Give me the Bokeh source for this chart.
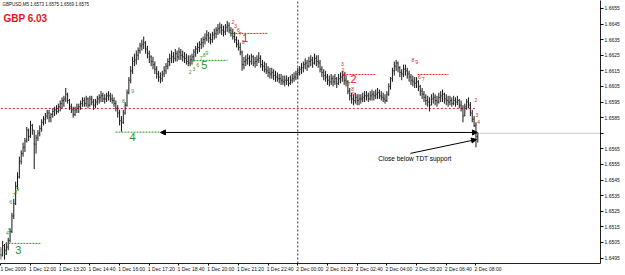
from bokeh.plotting import figure
from bokeh.models import (Range1d, FixedTicker, PrintfTickFormatter, Label, Arrow, NormalHead,
                          ColumnDataSource, LinearAxis)
from bokeh.core.properties import value
from bokeh.embed import file_html
from bokeh.resources import INLINE

BASE = 1.6500  # prices below are in pips above this level

high_pips = [2, 6,
    4, 5, 8, 14, 24, 33, 44, 50,
    60, 64, 69, 72, 79, 78, 83, 81,
    77, 74, 77, 80, 84, 86, 88, 90,
    90, 88, 91, 92, 93, 94, 96, 98,
    99, 104, 101, 97, 94, 92, 92, 94,
    94, 96, 98, 98, 99, 98, 99, 99,
    97, 97, 99, 100, 102, 101, 100, 101,
    102, 101, 100, 98, 96, 93, 90, 86,
    90, 95, 103, 111, 118, 124, 126, 128,
    130, 133, 135, 137, 134, 131, 128, 125,
    124, 121, 118, 115, 114, 115, 118, 120,
    123, 126, 128, 127, 129, 128, 130, 129,
    128, 127, 126, 125, 125, 126, 129, 131,
    133, 134, 136, 137, 139, 141, 140, 139,
    140, 142, 143, 145, 146, 145, 144, 145,
    147, 146, 143, 142, 140, 137, 135, 133,
    128, 124, 125, 126, 125, 126, 125, 124,
    125, 127, 125, 122, 121, 120, 118, 117,
    117, 116, 115, 114, 113, 113, 112, 112,
    112, 111, 112, 113, 114, 115, 117, 118,
    120, 121, 123, 122, 124, 125, 124, 126,
    125, 125, 122, 118, 116, 115, 113, 112,
    113, 112, 113, 111, 113, 114, 115, 114,
    112, 109, 104, 101, 100, 101, 100, 100,
    100, 101, 102, 102, 101, 102, 103, 102,
    103, 104, 103, 102, 101, 100, 102, 107,
    111, 117, 121, 122, 121, 118, 116, 119,
    119, 117, 115, 113, 112, 111, 111, 109,
    106, 104, 102, 100, 99, 98, 100, 101,
    100, 99, 101, 102, 103, 101, 100, 99,
    99, 98, 99, 98, 99, 97, 96, 93,
    94, 97, 98, 95, 90, 86, 82, 75]

low_pips = [-6, -4,
    -6, -3, 0, 5, 11, 20, 29, 39,
    46, 55, 60, 63, 69, 70, 72, 74,
    52, 62, 70, 73, 76, 80, 81, 84,
    82, 82, 85, 86, 87, 88, 89, 91,
    92, 95, 94, 90, 88, 85, 86, 88,
    88, 90, 92, 92, 92, 91, 92, 93,
    90, 91, 93, 94, 95, 95, 94, 95,
    96, 95, 94, 92, 89, 85, 80, 76,
    81, 87, 92, 100, 107, 113, 118, 119,
    122, 126, 128, 129, 126, 123, 120, 118,
    116, 113, 110, 108, 107, 108, 111, 113,
    116, 118, 120, 120, 121, 121, 122, 122,
    121, 120, 119, 118, 118, 119, 121, 124,
    126, 127, 129, 130, 132, 134, 133, 132,
    133, 135, 136, 138, 139, 138, 137, 138,
    140, 139, 137, 135, 133, 130, 128, 125,
    115, 116, 118, 119, 118, 119, 118, 117,
    118, 120, 117, 115, 114, 113, 111, 110,
    110, 109, 108, 108, 107, 106, 106, 105,
    106, 105, 106, 107, 108, 109, 110, 112,
    113, 114, 116, 115, 117, 118, 117, 119,
    118, 117, 114, 111, 109, 108, 106, 105,
    106, 105, 106, 104, 106, 107, 108, 106,
    105, 100, 96, 94, 93, 94, 93, 93,
    94, 95, 95, 96, 95, 96, 96, 96,
    97, 97, 97, 96, 95, 94, 95, 99,
    103, 108, 112, 115, 114, 111, 109, 111,
    112, 110, 108, 106, 105, 104, 104, 102,
    99, 97, 95, 93, 92, 89, 93, 94,
    93, 92, 94, 95, 95, 94, 93, 92,
    93, 92, 93, 92, 93, 91, 89, 82,
    86, 90, 91, 86, 82, 79, 66, 69]

close_pips = [-3, 3,
    0, 2, 6, 12, 22, 30, 41, 47,
    57, 62, 66, 70, 77, 73, 80, 77,
    68, 72, 75, 78, 82, 84, 86, 88,
    85, 87, 89, 90, 89, 92, 94, 96,
    97, 100, 96, 92, 90, 87, 90, 91,
    92, 94, 96, 94, 97, 93, 97, 95,
    93, 95, 97, 98, 99, 97, 97, 99,
    99, 97, 96, 94, 91, 88, 83, 82,
    88, 93, 101, 109, 115, 121, 122, 125,
    128, 131, 132, 133, 129, 126, 124, 121,
    119, 116, 113, 111, 110, 113, 115, 118,
    121, 123, 124, 123, 126, 124, 127, 125,
    124, 123, 121, 120, 122, 124, 127, 129,
    130, 132, 133, 135, 136, 138, 136, 135,
    138, 139, 141, 142, 143, 141, 140, 143,
    144, 141, 139, 137, 135, 132, 130, 127,
    119, 121, 122, 123, 121, 124, 120, 121,
    122, 123, 119, 118, 116, 115, 114, 113,
    114, 112, 111, 110, 110, 109, 108, 109,
    109, 107, 109, 110, 111, 113, 114, 116,
    117, 119, 120, 118, 121, 122, 120, 123,
    121, 120, 116, 114, 112, 111, 109, 108,
    110, 108, 110, 107, 110, 111, 112, 109,
    108, 102, 99, 97, 96, 98, 96, 97,
    97, 98, 99, 99, 97, 99, 100, 99,
    100, 101, 99, 98, 97, 96, 100, 105,
    110, 115, 118, 120, 117, 114, 113, 116,
    115, 113, 111, 109, 108, 107, 108, 105,
    102, 100, 98, 96, 95, 93, 97, 98,
    96, 95, 98, 99, 100, 97, 96, 95,
    96, 94, 96, 95, 96, 93, 91, 86,
    92, 95, 93, 88, 84, 80, 73, 75]

# time axis: one bar = 5 minutes, bar 0 = 1 Dec 10:40
tick_bars = [0, 16, 32, 48, 64, 80, 96, 112, 128, 144, 160, 176, 192, 208, 224, 240, 256]
tick_labels = ["1 Dec 2009", "1 Dec 12:00", "1 Dec 13:20", "1 Dec 14:40", "1 Dec 16:00",
               "1 Dec 17:20", "1 Dec 18:40", "1 Dec 20:00", "1 Dec 21:20", "1 Dec 22:40",
               "2 Dec 00:00", "2 Dec 01:20", "2 Dec 02:40", "2 Dec 04:00", "2 Dec 05:20",
               "2 Dec 06:40", "2 Dec 08:00"]
price_ticks = [1.6495, 1.6505, 1.6515, 1.6525, 1.6535, 1.6545, 1.6555, 1.6565, 1.6575,
               1.6585, 1.6595, 1.6605, 1.6615, 1.6625, 1.6635, 1.6645, 1.6655]
last_price = 1.6575
resistance_level = 1.65909
support_level = 1.65757

n = len(close_pips)
idx = list(range(n))
high = [BASE + h / 10000 for h in high_pips]
low = [BASE + l / 10000 for l in low_pips]
close = [BASE + c / 10000 for c in close_pips]
opn = [close[0]] + close[:-1]

src = ColumnDataSource(dict(
    x=idx, xl=[i - 0.45 for i in idx], xr=[i + 0.45 for i in idx],
    high=high, low=low, open=opn, close=close))

p = figure(width=625, height=275, output_backend="svg", toolbar_location=None,
           x_range=Range1d(-0.16, 323.1), y_range=Range1d(1.64915, 1.66601),
           y_axis_location="right", min_border_left=0, min_border_top=0,
           min_border_right=25, min_border_bottom=12)
p.outline_line_color = None
p.grid.visible = False
p.background_fill_color = "white"

FONT = "Liberation Sans"
for ax in (p.xaxis[0], p.yaxis[0]):
    ax.axis_line_color = "#222222"
    ax.major_tick_out = 3
    ax.major_tick_in = 0
    ax.minor_tick_line_color = None
    ax.major_label_text_font = FONT
    ax.major_label_text_font_size = "5px"
    ax.major_label_text_color = "#111111"
    ax.major_label_standoff = 1

# tick marks only on the first time axis
p.xaxis[0].ticker = FixedTicker(ticks=tick_bars)
p.xaxis[0].major_label_overrides = {b: "" for b in tick_bars}
p.xaxis[0].major_label_text_font_size = "1px"
p.xaxis[0].major_label_standoff = 0
p.xaxis[0].major_tick_out = 2

# labels that start at their tick (as in the terminal)
shift = 6.5
lab_axis = LinearAxis(ticker=FixedTicker(ticks=[b + shift for b in tick_bars]),
                      major_label_overrides={b + shift: t for b, t in zip(tick_bars, tick_labels)},
                      axis_line_color=None, major_tick_line_color=None, minor_tick_line_color=None,
                      major_tick_out=0, major_tick_in=0, major_label_standoff=0,
                      major_label_text_font=FONT, major_label_text_font_size="5px",
                      major_label_text_color="#111111")
p.add_layout(lab_axis, "below")

p.yaxis[0].ticker = FixedTicker(ticks=price_ticks)
p.yaxis[0].formatter = PrintfTickFormatter(format="%.4f")
p.yaxis[0].major_label_overrides = {last_price: ""}

# day separator
p.segment(x0=[160], y0=[1.64915], x1=[160], y1=[1.66601], line_color="#333333",
          line_width=1, line_dash="2 2")
# long red dotted level
p.segment(x0=[0], y0=[resistance_level], x1=[256], y1=[resistance_level],
          line_color="#e02020", line_width=1, line_dash="2 2")
# current price line
p.segment(x0=[258], y0=[last_price], x1=[323.1], y1=[last_price], line_color="#c8c8c8", line_width=1)

# bars
p.segment(x0="x", y0="low", x1="x", y1="high", source=src, line_color="#151515", line_width=1)
p.segment(x0="xl", y0="open", x1="x", y1="open", source=src, line_color="#303030", line_width=1)
p.segment(x0="x", y0="close", x1="xr", y1="close", source=src, line_color="#303030", line_width=1)

# TD levels (dotted)
green_lv = dict(x0=[2.5, 61.8, 102.2], x1=[21.4, 86.0, 122.1], y=[1.65044, support_level, 1.66217])
p.segment(x0=green_lv["x0"], y0=green_lv["y"], x1=green_lv["x1"], y1=green_lv["y"],
          line_color="#2a9a2a", line_width=1, line_dash="2 1")
red_lv = dict(x0=[124.8, 184.6, 224.5], x1=[144.2, 201.9, 241.2], y=[1.6639, 1.66127, 1.66127])
p.segment(x0=red_lv["x0"], y0=red_lv["y"], x1=red_lv["x1"], y1=red_lv["y"],
          line_color="#e02020", line_width=1, line_dash="2 1")

# big count labels
p.text(x=[9.5, 71.0, 109.7], y=[1.64999, 1.65723, 1.66185], text=["3", "4", "5"],
       text_color="#1f8f1f", text_font=value(FONT), text_font_size="11px",
       text_align="center", text_baseline="middle")
p.text(x=[131.8, 190.0], y=[1.66358, 1.66095], text=["1", "2"],
       text_color="#e02020", text_font=value(FONT), text_font_size="11px",
       text_align="center", text_baseline="middle")

# small TD counts
g_x = [2.6, 3.6, 4.6, 5.4, 7.0, 8.1, 9.2, 66.0, 71.0, 102.0, 104.0, 106.0, 108.0, 109.5, 111.0]
g_y = [1.64984, 1.65112, 1.65131, 1.65311, 1.65356, 1.65375, 1.65394, 1.65954, 1.66018,
       1.66140, 1.66160, 1.66185, 1.66230, 1.66250, 1.66265]
g_t = ["2", "4", "5", "6", "7", "8", "9", "8", "9", "2", "3", "6", "7", "8", "9"]
p.text(x=g_x, y=g_y, text=g_t, text_color="#2a9a2a", text_font=value(FONT),
       text_font_size="5px", text_align="center", text_baseline="middle")
r_x = [125.0, 126.5, 128.0, 129.0, 130.5, 184.0, 184.5, 185.5, 187.5, 189.5, 190.0,
       222.0, 224.0, 225.5, 227.5, 256.0, 256.5, 257.5]
r_y = [1.66460, 1.66435, 1.66415, 1.66385, 1.66335, 1.66192, 1.66153, 1.66127, 1.66063,
       1.66031, 1.65999, 1.66218, 1.66205, 1.66111, 1.66096, 1.65961, 1.65865, 1.65820]
r_t = ["2", "3", "6", "7", "8", "3", "2", "5", "7", "8", "9", "8", "9", "6", "7", "2", "3", "4"]
p.text(x=r_x, y=r_y, text=r_t, text_color="#e02020", text_font=value(FONT),
       text_font_size="5px", text_align="center", text_baseline="middle")

# arrows
p.add_layout(Arrow(start=NormalHead(size=5, fill_color="black", line_color="black"),
                   end=NormalHead(size=5, fill_color="black", line_color="black"),
                   x_start=86.0, y_start=1.65755, x_end=256.8, y_end=1.65755,
                   line_color="black", line_width=1))
p.add_layout(Arrow(end=NormalHead(size=5, fill_color="black", line_color="black"),
                   x_start=220.7, y_start=1.65621, x_end=256.3, y_end=1.65710,
                   line_color="black", line_width=1))
p.text(x=[203.4], y=[1.65588], text=["Close below TDT support"], text_color="black",
       text_font=value(FONT), text_font_size="6.5px", text_align="left", text_baseline="middle")

# header texts
p.text(x=[0.9], y=[1.66576], text=["GBPUSD,M5  1.6573 1.6575 1.6569 1.6575"], text_color="#111111",
       text_font=value(FONT), text_font_size="4.5px", text_align="left", text_baseline="middle")
p.text(x=[1.4], y=[1.66486], text=["GBP  6.03"], text_color="#e8141c", text_font=value(FONT),
       text_font_size="10px", text_font_style="bold", text_align="left", text_baseline="middle")

# last price box on the axis
p.add_layout(Label(x=325.6, y=last_price, text="1.6575", text_font=FONT, text_font_size="5px",
                   text_color="white", background_fill_color="black", text_baseline="middle",
                   text_align="left"))

open("out.html", "w").write(file_html(p, INLINE))
